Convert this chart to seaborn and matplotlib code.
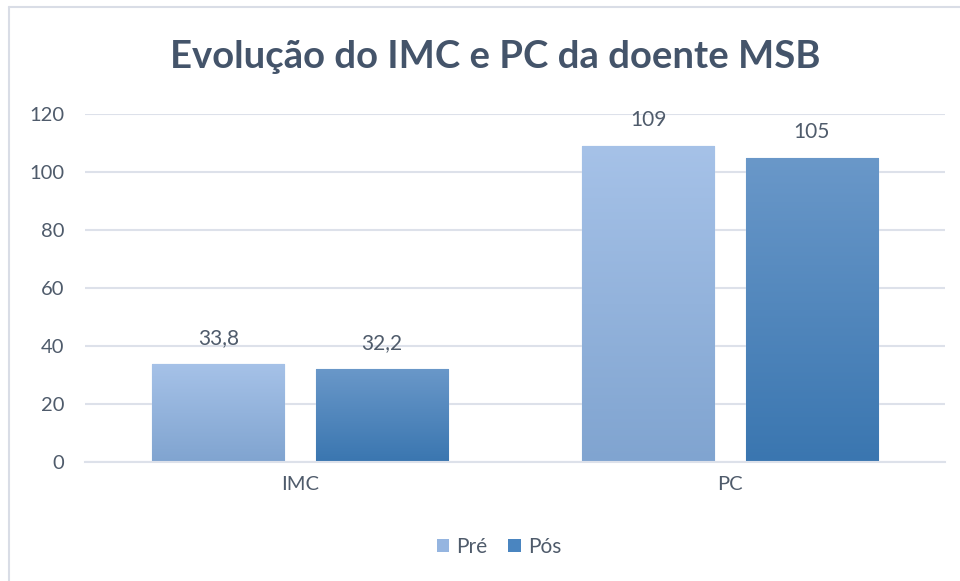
import numpy as np
import pandas as pd
import matplotlib.pyplot as plt
import seaborn as sns
from matplotlib.colors import LinearSegmentedColormap
from matplotlib.patches import Rectangle
from matplotlib.lines import Line2D

categories = ["IMC", "PC"]
series = ["Pré", "Pós"]
pre_values = [33.8, 109]
pos_values = [32.2, 105]
value_labels = {"Pré": ["33,8", "109"], "Pós": ["32,2", "105"]}
y_ticks = [0, 20, 40, 60, 80, 100, 120]

sns.set_theme(style="white")
plt.rcParams['font.family'] = ['Lato', 'DejaVu Sans']

df = pd.DataFrame({
    "categoria": categories * 2,
    "serie": [series[0]] * 2 + [series[1]] * 2,
    "valor": pre_values + pos_values,
})

# top / bottom colours of the gradient for each series
grad = {
    "Pré": ("#a6c2e8", "#80a4d0"),
    "Pós": ("#6a98c9", "#3a76b0"),
}
legend_col = {"Pré": "#95b5e0", "Pós": "#4a85c0"}
text_col = "#4f5b6b"

fig = plt.figure(figsize=(9.6, 5.81), dpi=100)
ax = fig.add_axes([85 / 960, 1 - 462 / 581, 860 / 960, 348 / 581])

sns.barplot(data=df, x="categoria", y="valor", hue="serie", hue_order=series,
            order=categories, palette=legend_col, width=0.76, gap=0.19,
            ax=ax, legend=False)

# gradient fill clipped to each bar
for container, name in zip(ax.containers, series):
    top, bot = grad[name]
    cmap = LinearSegmentedColormap.from_list(name, [bot, top])
    for bar, lab in zip(container, value_labels[name]):
        x0, y0 = bar.get_x(), bar.get_y()
        w, h = bar.get_width(), bar.get_height()
        img = ax.imshow(np.linspace(0, 1, 256).reshape(-1, 1), cmap=cmap,
                        origin="lower", aspect="auto",
                        extent=[x0, x0 + w, y0, y0 + h], zorder=bar.get_zorder() + 0.1)
        img.set_clip_path(bar)
        bar.set_edgecolor("#d6e2f2")
        bar.set_linewidth(1.0)
        ax.text(x0 + w / 2, y0 + h + 5.5, lab, ha="center", va="bottom",
                fontsize=15, color=text_col)

ax.set_ylim(0, 120)
ax.set_xlim(-0.5, 1.5)
ax.set_yticks(y_ticks)
ax.yaxis.grid(True, color="#dde1ea", linewidth=1.5)
ax.set_axisbelow(True)
for s in ["top", "right", "left"]:
    ax.spines[s].set_visible(False)
ax.spines["bottom"].set_color("#dde1ea")
ax.spines["bottom"].set_linewidth(1.5)
ax.tick_params(axis="y", length=0, labelsize=14.5, labelcolor=text_col, pad=15)
ax.tick_params(axis="x", length=0, labelsize=14.5, labelcolor=text_col, pad=10)
ax.set_xlabel("")
ax.set_ylabel("")

fig.text(0.516, 1 - 57 / 581, "Evolução do IMC e PC da doente MSB", ha="center",
         va="center", fontsize=27.5, fontweight="bold", color="#44546a")

handles = [Rectangle((0, 0), 1, 1, facecolor=legend_col[s], edgecolor="none") for s in series]
fig.legend(handles, series, loc="center", bbox_to_anchor=(0.52, 1 - 547 / 581),
           ncol=2, frameon=False, fontsize=15, handlelength=0.6, handleheight=0.6,
           handletextpad=0.35, columnspacing=1.0, labelcolor=text_col)

# outer chart frame (only top and left edges visible in the crop)
fig.add_artist(Line2D([9 / 960, 1], [1 - 7 / 581] * 2, transform=fig.transFigure,
                      color="#d9dde6", linewidth=1.5))
fig.add_artist(Line2D([9 / 960] * 2, [0, 1 - 7 / 581], transform=fig.transFigure,
                      color="#d9dde6", linewidth=1.5))

fig.savefig("out.png", dpi=100)
